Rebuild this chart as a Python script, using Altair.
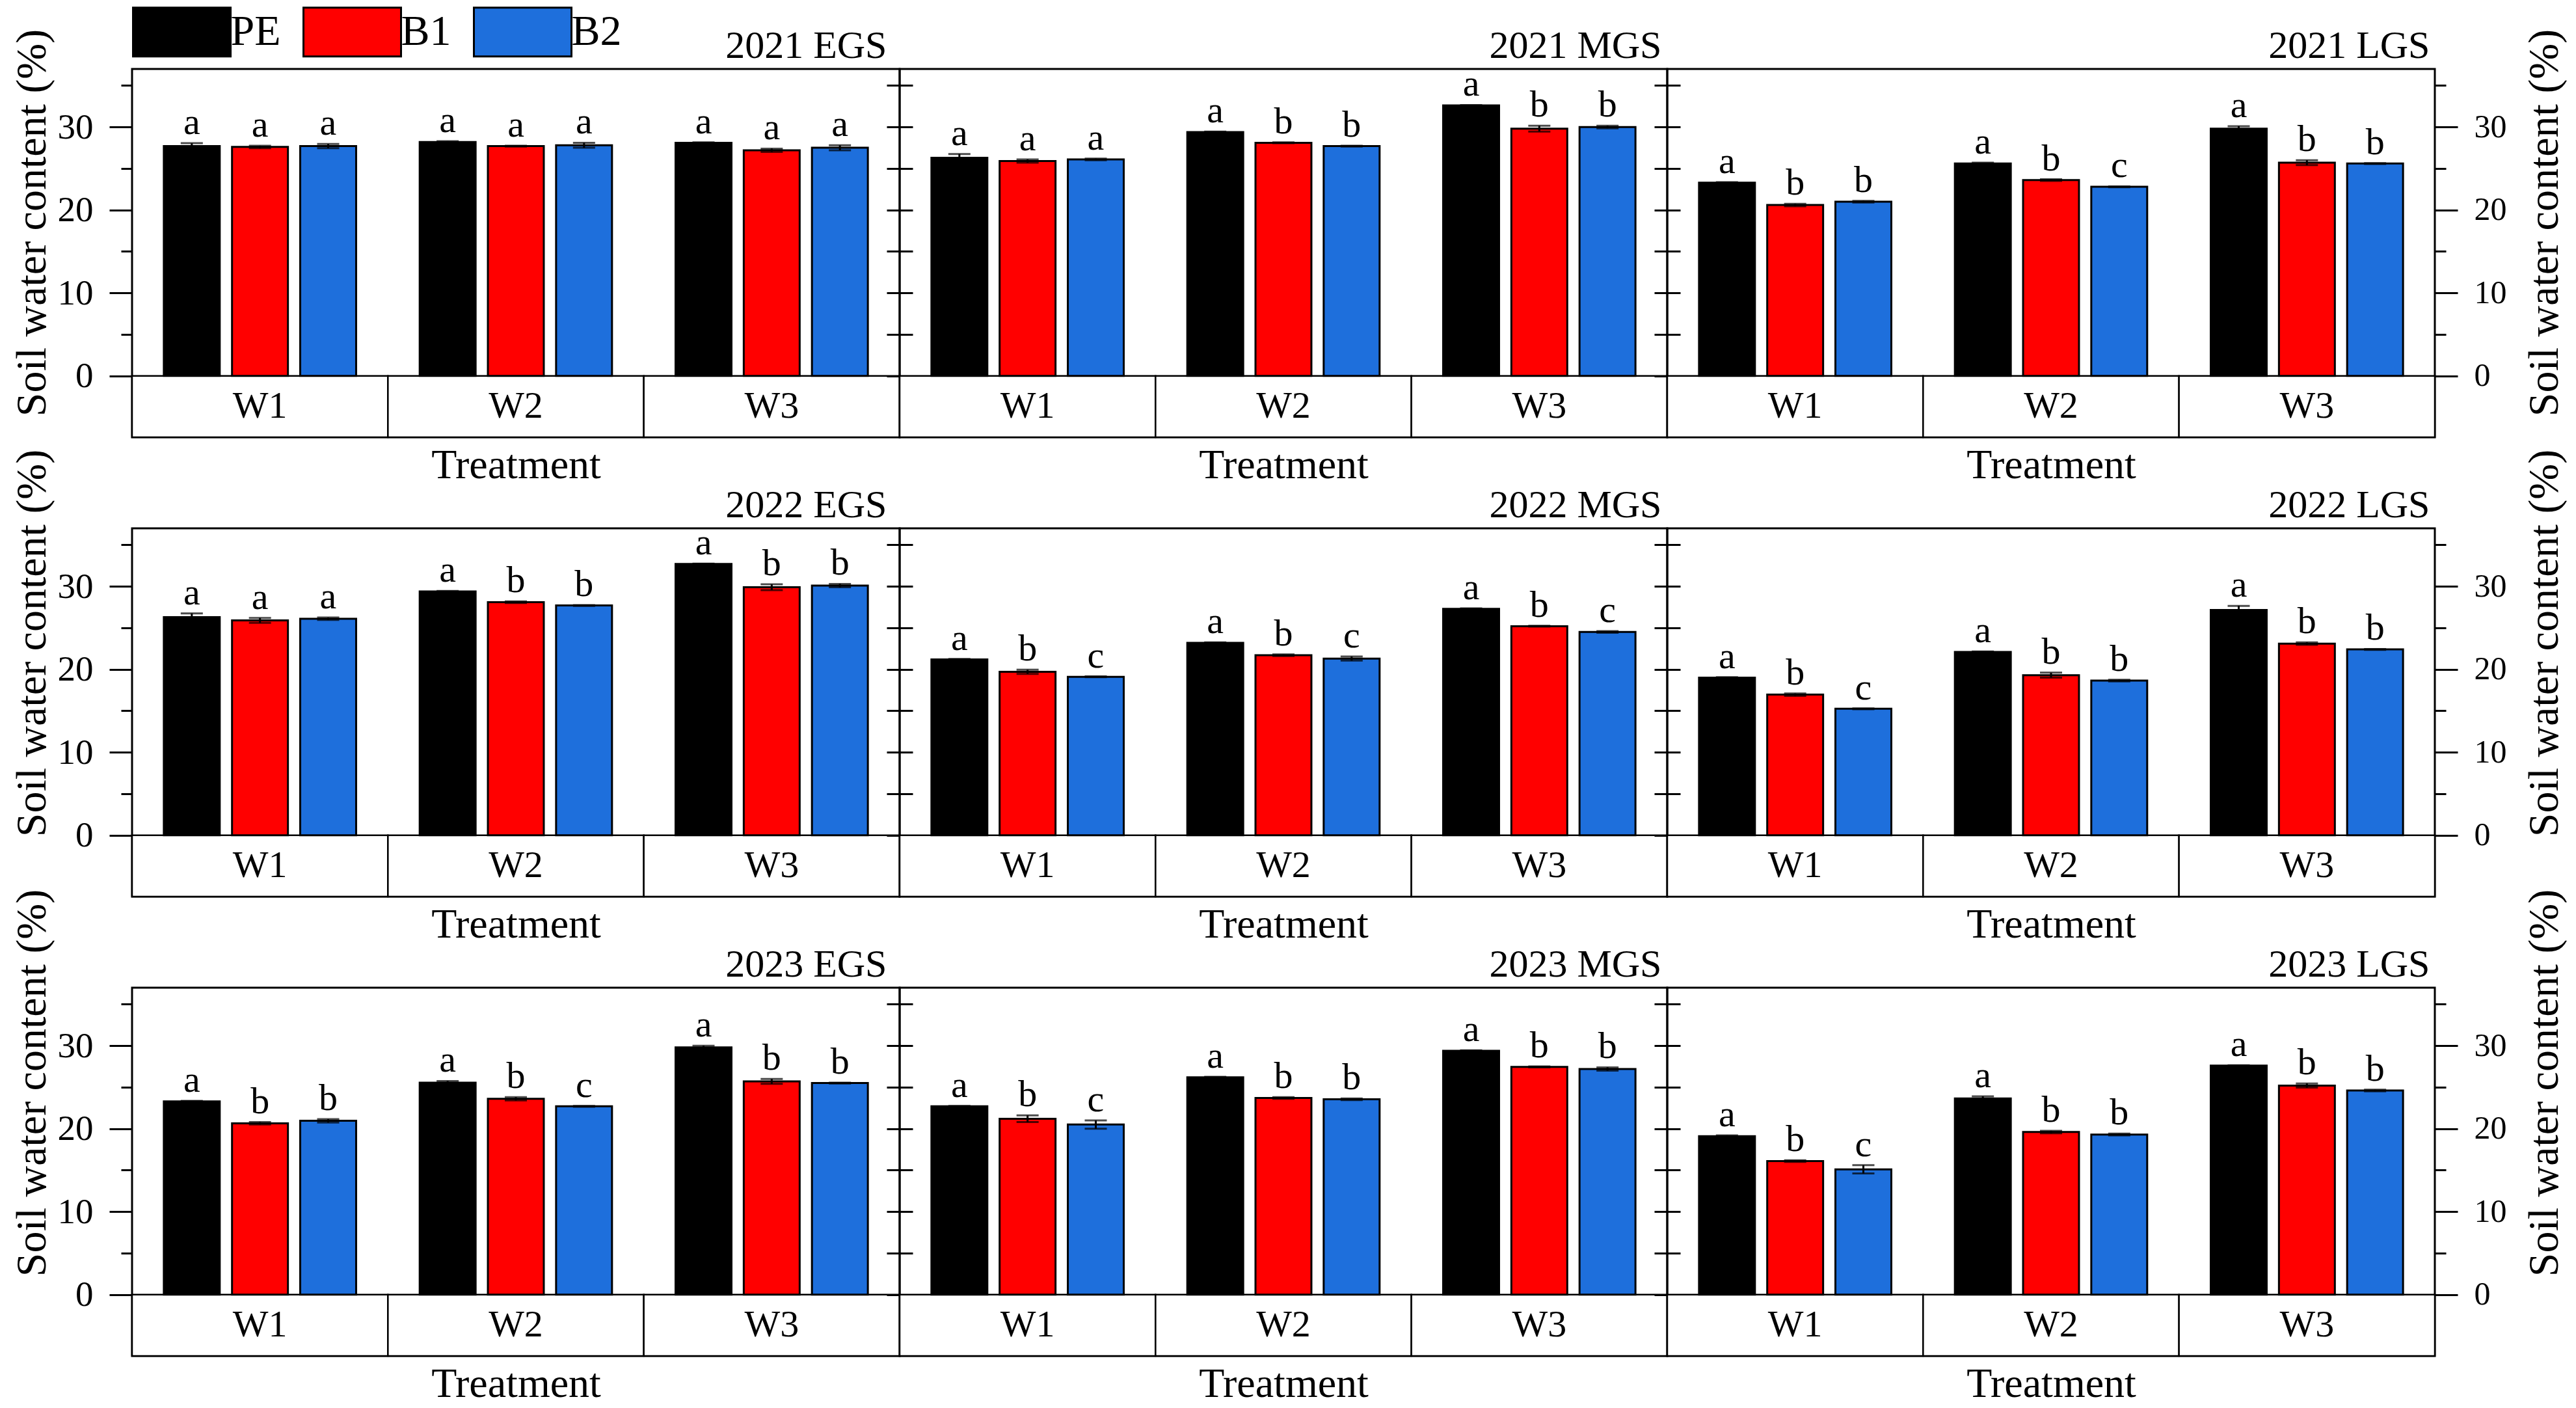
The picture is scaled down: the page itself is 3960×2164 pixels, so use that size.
import altair as alt
import pandas as pd

FONT = "Liberation Serif"

TREATMENTS = ["W1", "W2", "W3"]
GROUPS = ["PE", "B1", "B2"]
COLORS = ["#000000", "#FF0000", "#1E6FDC"]
YEARS = ["2021", "2022", "2023"]
STAGES = ["EGS", "MGS", "LGS"]
Y_TICKS = [0, 5, 10, 15, 20, 25, 30, 35]
Y_MIN = -7.4   # bottom of the treatment strip
Y_MAX = 37

# order: W1 (PE, B1, B2), W2 (PE, B1, B2), W3 (PE, B1, B2)
MEAN_2021_EGS = [27.7, 27.6, 27.7, 28.2, 27.7, 27.8, 28.1, 27.2, 27.5]
ERR_2021_EGS = [0.35, 0.15, 0.25, 0.1, 0.05, 0.3, 0.05, 0.2, 0.3]
LET_2021_EGS = ["a", "a", "a", "a", "a", "a", "a", "a", "a"]

MEAN_2021_MGS = [26.3, 25.9, 26.1, 29.4, 28.1, 27.7, 32.6, 29.8, 30.0]
ERR_2021_MGS = [0.45, 0.2, 0.1, 0.05, 0.05, 0.05, 0.05, 0.35, 0.15]
LET_2021_MGS = ["a", "a", "a", "a", "b", "b", "a", "b", "b"]

MEAN_2021_LGS = [23.3, 20.6, 21.0, 25.6, 23.6, 22.8, 29.8, 25.7, 25.6]
ERR_2021_LGS = [0.05, 0.15, 0.1, 0.1, 0.1, 0.05, 0.3, 0.3, 0.05]
LET_2021_LGS = ["a", "b", "b", "a", "b", "c", "a", "b", "b"]

MEAN_2022_EGS = [26.3, 25.9, 26.1, 29.4, 28.1, 27.7, 32.7, 29.9, 30.1]
ERR_2022_EGS = [0.45, 0.3, 0.15, 0.05, 0.1, 0.05, 0.05, 0.35, 0.2]
LET_2022_EGS = ["a", "a", "a", "a", "b", "b", "a", "b", "b"]

MEAN_2022_MGS = [21.2, 19.7, 19.1, 23.2, 21.7, 21.3, 27.3, 25.2, 24.5]
ERR_2022_MGS = [0.05, 0.25, 0.05, 0.05, 0.1, 0.25, 0.05, 0.05, 0.1]
LET_2022_MGS = ["a", "b", "c", "a", "b", "c", "a", "b", "c"]

MEAN_2022_LGS = [19.0, 16.95, 15.25, 22.1, 19.3, 18.65, 27.15, 23.1, 22.4]
ERR_2022_LGS = [0.05, 0.15, 0.05, 0.05, 0.3, 0.1, 0.5, 0.15, 0.05]
LET_2022_LGS = ["a", "b", "c", "a", "b", "b", "a", "b", "b"]

MEAN_2023_EGS = [23.3, 20.65, 20.95, 25.55, 23.6, 22.7, 29.8, 25.7, 25.5]
ERR_2023_EGS = [0.05, 0.15, 0.2, 0.2, 0.2, 0.05, 0.2, 0.3, 0.05]
LET_2023_EGS = ["a", "b", "b", "a", "b", "c", "a", "b", "b"]

MEAN_2023_MGS = [22.7, 21.2, 20.5, 26.2, 23.7, 23.55, 29.4, 27.45, 27.2]
ERR_2023_MGS = [0.05, 0.4, 0.5, 0.05, 0.1, 0.1, 0.05, 0.05, 0.2]
LET_2023_MGS = ["a", "b", "c", "a", "b", "b", "a", "b", "b"]

MEAN_2023_LGS = [19.1, 16.1, 15.1, 23.65, 19.6, 19.3, 27.6, 25.2, 24.6]
ERR_2023_LGS = [0.1, 0.1, 0.5, 0.25, 0.15, 0.1, 0.05, 0.25, 0.1]
LET_2023_LGS = ["a", "b", "c", "a", "b", "b", "a", "b", "b"]

PANELS = {
    ("2021", "EGS"): (MEAN_2021_EGS, ERR_2021_EGS, LET_2021_EGS),
    ("2021", "MGS"): (MEAN_2021_MGS, ERR_2021_MGS, LET_2021_MGS),
    ("2021", "LGS"): (MEAN_2021_LGS, ERR_2021_LGS, LET_2021_LGS),
    ("2022", "EGS"): (MEAN_2022_EGS, ERR_2022_EGS, LET_2022_EGS),
    ("2022", "MGS"): (MEAN_2022_MGS, ERR_2022_MGS, LET_2022_MGS),
    ("2022", "LGS"): (MEAN_2022_LGS, ERR_2022_LGS, LET_2022_LGS),
    ("2023", "EGS"): (MEAN_2023_EGS, ERR_2023_EGS, LET_2023_EGS),
    ("2023", "MGS"): (MEAN_2023_MGS, ERR_2023_MGS, LET_2023_MGS),
    ("2023", "LGS"): (MEAN_2023_LGS, ERR_2023_LGS, LET_2023_LGS),
}

# layout
PANEL_W = 1180
PANEL_H = 566
ROW_GAP = 140
YTITLE_Y = [236, 176, 146]
TITLE_DX = [-20, -9, -8]
YTITLE = "Soil water content (%)"

MAJOR = "datum.value % 10 === 0"


def y_axis(orient, outer, row):
    if outer:
        ax = dict(
            orient=orient,
            values=Y_TICKS,
            labels=True,
            labelExpr=f"{MAJOR} ? datum.label : ''",
            labelFont=FONT,
            labelFontSize=55 if orient == "left" else 50,
            labelColor="black",
            labelPadding=25,
            tickSize={"condition": {"test": MAJOR, "value": 35}, "value": 17},
            tickWidth=3,
            tickColor="black",
            domain=False,
            grid=False,
            title=YTITLE,
            titleFont=FONT,
            titleFontSize=66,
            titleFontWeight="normal",
            titleColor="black",
            titleAngle=270,
            titleBaseline="alphabetic",
            titleAlign="center",
            titleX=-134 if orient == "left" else 188,
            titleY=YTITLE_Y[row],
        )
    else:
        ax = dict(
            orient=orient,
            values=Y_TICKS,
            labels=False,
            tickSize=20,
            tickWidth=3,
            tickColor="black",
            domain=False,
            grid=False,
            title=None,
        )
    return alt.Axis(**ax)


def panel(year, stage, row, col):
    means, errs, lets = PANELS[(year, stage)]
    df = pd.DataFrame({
        "W": [w for w in TREATMENTS for _ in GROUPS],
        "group": [g for _ in TREATMENTS for g in GROUPS],
        "mean": means,
        "err": errs,
        "letter": lets,
    })
    df["lo"] = df["mean"] - df["err"]
    df["hi"] = df["mean"] + df["err"]
    strip_df = pd.DataFrame({"W": TREATMENTS})

    yscale = alt.Scale(domain=[Y_MIN, Y_MAX], nice=False, zero=False)
    xscale = alt.Scale(domain=TREATMENTS, paddingInner=0, paddingOuter=0)
    bottom_axis = alt.Axis(
        orient="bottom", labels=False, ticks=False, domain=False, grid=False,
        title="Treatment", titleFont=FONT, titleFontSize=64,
        titleFontWeight="normal", titleColor="black",
        titleBaseline="alphabetic", titlePadding=62,
    )
    top_axis = alt.Axis(
        orient="top", labels=False, ticks=False, domain=False, grid=False,
        title=f"{year} {stage}", titleFont=FONT, titleFontSize=60,
        titleFontWeight="normal", titleColor="black",
        titleAlign="right", titleAnchor="end", titleBaseline="alphabetic",
        titleX=PANEL_W + TITLE_DX[col], titleY=-18,
    )
    x_top = alt.X("W:N", sort=TREATMENTS, scale=xscale, axis=top_axis)
    x_bottom = alt.X("W:N", sort=TREATMENTS, scale=xscale, axis=bottom_axis)
    x_plain = alt.X("W:N", sort=TREATMENTS, scale=xscale, axis=None)
    xoff = alt.XOffset("group:N", sort=GROUPS,
                       scale=alt.Scale(domain=GROUPS, paddingInner=0.18, paddingOuter=0.466))

    strip = alt.Chart(strip_df).mark_rect(
        fill="white", stroke="black", strokeWidth=2.5
    ).encode(
        x=x_top,
        y=alt.Y(datum=0, scale=yscale, axis=None),
        y2=alt.Y2(datum=Y_MIN),
    )
    wtext = alt.Chart(strip_df).mark_text(
        font=FONT, fontSize=58, color="black", baseline="middle"
    ).encode(
        x=x_plain,
        y=alt.Y(datum=Y_MIN / 2, scale=yscale, axis=None),
        text="W:N",
    )

    if row == 0 and col == 0:
        legend = alt.Legend(
            orient="none", legendX=37.5, legendY=-96, direction="horizontal",
            title=None, symbolType="M-2,-1H2V1H-2Z", symbolSize=5625,
            symbolStrokeColor="black", symbolStrokeWidth=3, symbolOpacity=1,
            labelFont=FONT, labelFontSize=66, labelColor="black",
            labelOffset=36, columnPadding=28, padding=0, labelLimit=0,
        )
    else:
        legend = None

    bars = alt.Chart(df).mark_bar(stroke="black", strokeWidth=3).encode(
        x=x_bottom,
        xOffset=xoff,
        y=alt.Y("mean:Q", scale=yscale, axis=y_axis("left", col == 0, row)),
        y2=alt.Y2(datum=0),
        fill=alt.Fill("group:N", sort=GROUPS,
                      scale=alt.Scale(domain=GROUPS, range=COLORS),
                      legend=legend),
    )
    rules = alt.Chart(df).mark_rule(color="black", strokeWidth=3).encode(
        x=x_plain,
        xOffset=xoff,
        y=alt.Y("lo:Q", scale=yscale, axis=y_axis("right", col == 2, row)),
        y2="hi:Q",
    )
    cap_hi = alt.Chart(df).mark_tick(color="black", thickness=3, size=34).encode(
        x=x_plain, xOffset=xoff,
        y=alt.Y("hi:Q", scale=yscale, axis=None),
    )
    cap_lo = alt.Chart(df).mark_tick(color="black", thickness=3, size=34).encode(
        x=x_plain, xOffset=xoff,
        y=alt.Y("lo:Q", scale=yscale, axis=None),
    )
    letters = alt.Chart(df).mark_text(
        font=FONT, fontSize=58, color="black", baseline="alphabetic", dy=-14
    ).encode(
        x=x_plain, xOffset=xoff,
        y=alt.Y("hi:Q", scale=yscale, axis=None),
        text="letter:N",
    )

    return alt.layer(strip, bars, rules, cap_hi, cap_lo, letters, wtext).resolve_axis(
        x="independent", y="independent"
    ).properties(
        width=PANEL_W,
        height=PANEL_H,
    )


panels = [panel(y, s, r, c) for r, y in enumerate(YEARS) for c, s in enumerate(STAGES)]

chart = alt.concat(
    *panels, columns=3, spacing={"row": ROW_GAP, "column": 0}, bounds="flush"
).resolve_scale(
    fill="independent"
).properties(
    padding={"left": 6, "top": 0, "right": 4, "bottom": 0},
    background="white",
).configure_view(
    stroke="black", strokeWidth=3
)

chart.save("out.html", embed_options={"renderer": "svg", "actions": False})
